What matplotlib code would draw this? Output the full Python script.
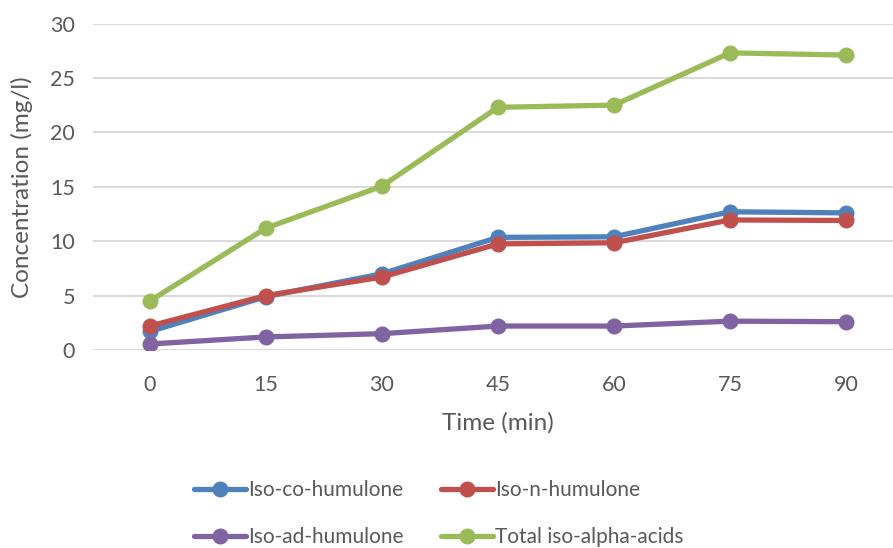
import matplotlib
matplotlib.use("Agg")
import matplotlib.pyplot as plt

plt.rcParams['font.family'] = ['Lato', 'DejaVu Sans']

time_min = ['0', '15', '30', '45', '60', '75', '90']
iso_co = [1.7, 4.9, 7.0, 10.35, 10.4, 12.7, 12.6]
iso_n = [2.2, 5.0, 6.7, 9.75, 9.85, 11.95, 11.9]
iso_ad = [0.55, 1.2, 1.5, 2.2, 2.2, 2.65, 2.6]
total = [4.5, 11.2, 15.05, 22.3, 22.5, 27.3, 27.1]

series = [
    ('Iso-co-humulone', iso_co, '#4F81BD'),
    ('Iso-n-humulone', iso_n, '#C0504D'),
    ('Iso-ad-humulone', iso_ad, '#8064A2'),
    ('Total iso-alpha-acids', total, '#9BBB59'),
]

text_col = '#595959'
fs_tick = 15.5
fs_leg = 15
fs_title = 17.5

fig = plt.figure(figsize=(8.93, 5.48), dpi=100)
ax = fig.add_axes([93 / 893, 1 - 350 / 548, 800 / 893, (350 - 23.5) / 548])

x = list(range(len(time_min)))
handles = []
for name, vals, col in series:
    ln, = ax.plot(x, vals, color=col, lw=3.8, marker='o', ms=10.5, label=name,
                  solid_capstyle='round', solid_joinstyle='round')
    handles.append(ln)

ax.set_ylim(0, 30)
ax.set_yticks(range(0, 31, 5))
ax.set_xlim(-0.49, 6.405)
ax.set_xticks(x)
ax.set_xticklabels(time_min)
ax.grid(axis='y', color='#D9D9D9', lw=1.4)
ax.set_axisbelow(True)
for s in ax.spines.values():
    s.set_visible(False)
ax.tick_params(length=0, labelsize=fs_tick, colors=text_col)
ax.tick_params(axis='y', pad=13)
ax.tick_params(axis='x', pad=18)

ax.set_xlabel('Time (min)', fontsize=fs_title, color=text_col)
ax.set_ylabel('Concentration (mg/l)', fontsize=fs_title, color=text_col)
ax.xaxis.set_label_coords(0.506, -0.19)
ax.yaxis.set_label_coords(-0.075, 0.5)

# legend fills column-wise, so interleave to get two rows of two
order = [0, 2, 1, 3]
fig.legend([handles[i] for i in order], [series[i][0] for i in order],
           loc='center', bbox_to_anchor=(0.491, 0.063), ncol=2, frameon=False,
           fontsize=fs_leg, labelcolor=text_col, handlelength=2.5,
           handletextpad=0.1, columnspacing=1.8, labelspacing=1.3)

fig.savefig('out.png', dpi=100)
